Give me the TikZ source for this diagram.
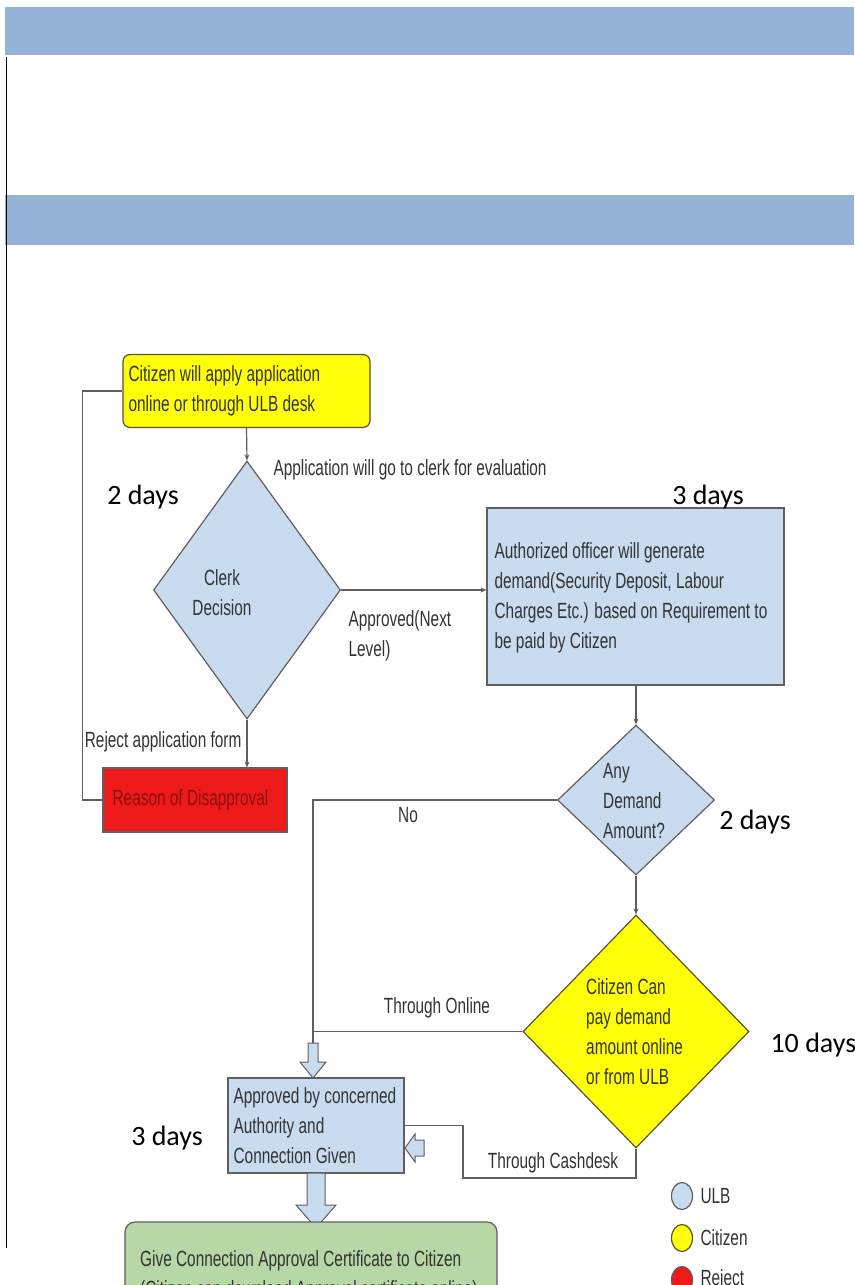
\documentclass[tikz,border=0pt]{standalone}
\usepackage{fontspec}
\usetikzlibrary{shapes.geometric,arrows.meta}
\newfontfamily\nf[FakeStretch=0.7]{Liberation Sans}
\newfontfamily\cf{Carlito}
\definecolor{band}{HTML}{95B3D7}
\definecolor{ulb}{HTML}{C9DCEF}
\definecolor{ylw}{HTML}{FFFF0A}
\definecolor{rejred}{HTML}{EE1A1A}
\definecolor{darkred}{HTML}{8A1010}
\definecolor{grn}{HTML}{B7D7A6}
\definecolor{txt}{HTML}{333333}
\definecolor{edge}{HTML}{5F5F5F}
\definecolor{yedge}{HTML}{55552E}
\begin{document}
\begin{tikzpicture}[x=1pt,y=-1pt,
 nf/.style={font=\nf\fontsize{22}{30}\selectfont,text=txt},
 intext/.style={nf,anchor=west,align=left,inner sep=0pt},
 days/.style={font=\cf\fontsize{28}{32}\selectfont,text=black},
 ulbbox/.style={draw=edge,line width=1.2pt,fill=ulb},
 ylwbox/.style={draw=yedge,line width=1.2pt,fill=ylw},
 conn/.style={draw=edge,line width=1.2pt},
 arr/.style={conn,-{Stealth[length=6pt,width=5pt]}},
 blockarr/.style={draw=edge,line width=1pt,fill=ulb,line join=miter},
 ]
\useasboundingbox (0,0) rectangle (854,1285);
\clip (0,0) rectangle (854,1285);
\fill[white] (0,0) rectangle (854,1285);
% header bands
\fill[band] (5,7) rectangle (854,55);
\fill[band] (5,195) rectangle (854,245);
\draw[line width=1.5pt] (6.5,57) -- (6.5,1248);

% start
\node[ylwbox, rounded corners=7pt, minimum width=247pt, minimum height=73pt, inner sep=0pt] (apply) at (246.5,391) {};
\node[intext] (applytxt) at ([xshift=6pt]apply.west) {Citizen will apply application\\online or through ULB desk};

% clerk decision
\node[diamond, ulbbox, minimum width=187pt, minimum height=258pt, inner sep=0pt] (clerk) at (247,590) {};
\node[nf, align=center] (clerktxt) at (222,593) {Clerk\\Decision};
\draw[arr] (apply.south) -- (clerk.north);
\node[nf, anchor=west] (lab1) at (270,470) {Application will go to clerk for evaluation};
\node[days] (d1) at (143,497) {2 days};

% officer
\node[ulbbox, minimum width=297pt, minimum height=177pt, inner sep=0pt] (officer) at (635.5,596.5) {};
\node[intext] (officertxt) at ([xshift=8pt,yshift=-1pt]officer.west) {Authorized officer will generate\\demand(Security Deposit, Labour\\Charges Etc.) based on Requirement to\\be paid by Citizen};
\node[days] (d2) at (708,497) {3 days};
\draw[arr] (clerk.east) -- (clerk.east -| officer.west);
\node[nf, anchor=west, align=left] (lab2) at (345,636) {Approved(Next\\Level)};

% reject
\node[draw=edge, fill=rejred, line width=1.2pt, minimum width=184pt, minimum height=64pt, inner sep=0pt] (reason) at (195,800) {};
\node[intext, text=darkred] (reasontxt) at ([xshift=10pt]reason.west) {Reason of Disapproval};
\draw[arr] (clerk.south) -- (clerk.south |- reason.north);
\node[nf, anchor=east] (lab3) at (245,742) {Reject application form};
\draw[conn] (apply.west) -- ++(-40,0) |- (reason.west);

% any demand
\node[diamond, ulbbox, minimum width=157pt, minimum height=150pt, inner sep=0pt] (anyd) at (636,800) {};
\node[intext] (anytxt) at (603,801) {Any\\Demand\\Amount?};
\draw[arr] (anyd.north |- officer.south) -- (anyd.north);
\node[days] (d3) at (755,822) {2 days};

% pay
\node[diamond, ylwbox, minimum width=226pt, minimum height=233pt, inner sep=0pt] (pay) at (636,1031.5) {};
\node[intext] (paytxt) at (586,1032) {Citizen Can\\pay demand\\amount online\\or from ULB};
\draw[arr] (anyd.south) -- (pay.north);
\node[days, anchor=west] (d4) at (767,1045) {10 days};

% approved
\node[ulbbox, minimum width=176pt, minimum height=95pt, inner sep=0pt] (appr) at (316,1125.5) {};
\node[intext] (apprtxt) at ([xshift=6pt]appr.west) {Approved by concerned\\Authority and\\Connection Given};
\node[days] (d5) at (167,1138) {3 days};

% No / online path
\coordinate (nojoin) at (313,1043);
\draw[conn] (anyd.west) -| (nojoin);
\draw[conn] (pay.west) -- (pay.west -| nojoin);
\node[nf] (lab4) at (408,815) {No};
\node[nf] (lab5) at (437,1008) {Through Online};
\draw[blockarr] (308,1043) -- (318,1043) -- (318,1062) -- (326,1062) -- (313,1078) -- (300,1062) -- (308,1062) -- cycle;

% cashdesk path
\coordinate (cd1) at (463,1178);
\draw[conn] (pay.south) |- (cd1) |- (appr.east);
\node[nf] (lab6) at (553,1163) {Through Cashdesk};
\draw[blockarr] (405,1148) -- (415,1134) -- (415,1140) -- (424,1140) -- (424,1156) -- (415,1156) -- (415,1162) -- cycle;

% certificate
\draw[blockarr] (307,1173) -- (325,1173) -- (325,1205) -- (336,1205) -- (316,1228) -- (296,1205) -- (307,1205) -- cycle;
\node[draw=edge, fill=grn, rounded corners=10pt, line width=1.2pt, minimum width=372pt, minimum height=120pt] (cert) at (311,1282) {};
\node[nf, anchor=north west, align=left, inner sep=0pt] (certtxt) at (140,1250) {Give Connection Approval Certificate to Citizen\\(Citizen can download Approval certificate online)};

% legend
\node[ellipse, ulbbox, minimum width=21pt, minimum height=27pt, inner sep=0pt] (lg1) at (682,1196) {};
\node[nf, anchor=west] (lg1t) at (697,1196) {ULB};
\node[ellipse, ylwbox, minimum width=21pt, minimum height=27pt, inner sep=0pt] (lg2) at (682,1238) {};
\node[nf, anchor=west] (lg2t) at (697,1238) {Citizen};
\node[ellipse, draw=edge, line width=1.2pt, fill=rejred, minimum width=21pt, minimum height=27pt, inner sep=0pt] (lg3) at (682,1280) {};
\node[nf, anchor=west] (lg3t) at (697,1280) {Reject};
\end{tikzpicture}
\end{document}
